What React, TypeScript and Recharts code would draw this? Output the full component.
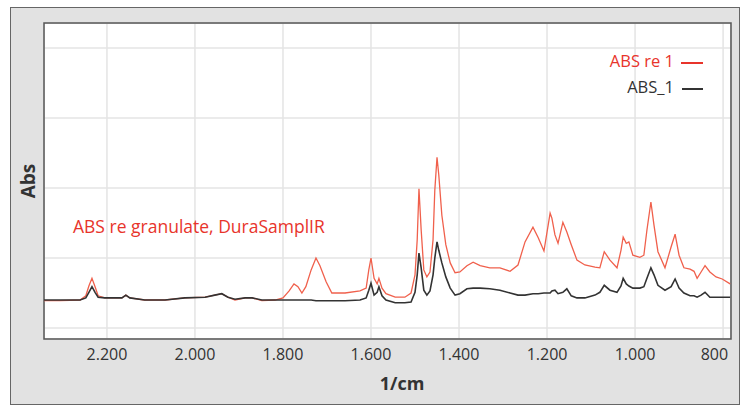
import { LineChart, Line, XAxis, YAxis, CartesianGrid, ReferenceArea } from 'recharts';

// wavenumbers (1/cm)
const wavenumbers = [
  2343, 2307, 2261, 2248, 2241, 2234, 2227, 2220, 2205, 2182, 2166, 2157, 2148, 2114, 2068, 2023, 1977, 1955, 1939, 1925,
  1909, 1886, 1870, 1848, 1818, 1800, 1786, 1775, 1766, 1757, 1748, 1736, 1725, 1716, 1702, 1689, 1659, 1625, 1611, 1605,
  1600, 1593, 1586, 1582, 1575, 1566, 1545, 1523, 1509, 1500, 1495, 1491, 1486, 1480, 1473, 1466, 1459, 1455, 1450, 1446,
  1439, 1430, 1420, 1409, 1398, 1382, 1368, 1352, 1330, 1307, 1284, 1266, 1250, 1232, 1220, 1207, 1193, 1189, 1182, 1175,
  1164, 1155, 1145, 1132, 1114, 1091, 1080, 1070, 1057, 1041, 1032, 1027, 1020, 1014, 1005, 989, 980, 973, 964, 957,
  948, 932, 918, 909, 900, 889, 875, 866, 859, 850, 841, 830, 816, 802, 784,
];

// "ABS re 1" (red trace)
const absRe1 = [
  0.39, 0.39, 0.40, 0.46, 0.60, 0.71, 0.59, 0.46, 0.43, 0.43, 0.43, 0.47, 0.43, 0.40, 0.40, 0.43, 0.44, 0.47, 0.49, 0.44,
  0.40, 0.43, 0.43, 0.39, 0.40, 0.43, 0.53, 0.63, 0.59, 0.50, 0.59, 0.83, 1.00, 0.89, 0.66, 0.50, 0.50, 0.53, 0.57, 0.83,
  1.00, 0.71, 0.63, 0.71, 0.57, 0.49, 0.44, 0.44, 0.50, 0.76, 1.26, 1.99, 1.40, 0.83, 0.73, 0.80, 1.26, 1.97, 2.44, 2.19,
  1.61, 1.19, 0.93, 0.79, 0.80, 0.89, 0.94, 0.89, 0.86, 0.86, 0.81, 0.90, 1.23, 1.44, 1.29, 1.10, 1.64, 1.57, 1.33, 1.21,
  1.51, 1.37, 1.19, 0.97, 0.90, 0.87, 0.86, 1.09, 0.97, 0.86, 1.11, 1.30, 1.21, 1.23, 1.04, 1.01, 1.04, 1.40, 1.80, 1.47,
  1.09, 0.86, 1.16, 1.34, 1.04, 0.86, 0.84, 0.81, 0.71, 0.80, 0.89, 0.80, 0.73, 0.70, 0.63,
];

// "ABS_1" (black trace)
const abs1 = [
  0.40, 0.40, 0.40, 0.43, 0.51, 0.59, 0.51, 0.44, 0.43, 0.43, 0.43, 0.47, 0.43, 0.40, 0.40, 0.43, 0.44, 0.47, 0.49, 0.44,
  0.41, 0.43, 0.43, 0.40, 0.40, 0.40, 0.40, 0.40, 0.40, 0.40, 0.40, 0.40, 0.39, 0.39, 0.39, 0.39, 0.39, 0.40, 0.43, 0.54,
  0.64, 0.47, 0.51, 0.59, 0.46, 0.40, 0.36, 0.36, 0.37, 0.51, 0.76, 1.07, 0.86, 0.54, 0.47, 0.53, 0.76, 1.00, 1.23, 1.11,
  0.93, 0.73, 0.57, 0.47, 0.49, 0.56, 0.57, 0.57, 0.56, 0.54, 0.50, 0.47, 0.47, 0.49, 0.49, 0.50, 0.50, 0.53, 0.54, 0.49,
  0.51, 0.56, 0.46, 0.43, 0.43, 0.47, 0.51, 0.61, 0.54, 0.51, 0.60, 0.71, 0.63, 0.60, 0.57, 0.57, 0.59, 0.71, 0.86, 0.76,
  0.61, 0.54, 0.59, 0.70, 0.57, 0.50, 0.46, 0.46, 0.44, 0.47, 0.51, 0.44, 0.44, 0.44, 0.44,
];

const xTicks = [800, 1000, 1200, 1400, 1600, 1800, 2000, 2200];
const yTicks = [0, 1, 2, 3, 4];
const xDomain: [number, number] = [782, 2343];
const yDomain: [number, number] = [-0.157, 4.357];

const data = wavenumbers.map((wn, i) => ({ wn, re: absRe1[i], abs: abs1[i] }));

const RED = '#e8342b';
const FONT = '"Open Sans", "DejaVu Sans", sans-serif';

const fmt = (v: number) => (v >= 1000 ? `${Math.floor(v / 1000)}.${String(v % 1000).padStart(3, '0')}` : String(v));

const XTick = (props: any) => {
  const { x, y, payload } = props;
  const last = payload.value === 800;
  return (
    <text
      x={last ? x + 5 : x}
      y={y}
      dy={13}
      textAnchor={last ? 'end' : 'middle'}
      fontSize={16}
      fontFamily={FONT}
      fill="#333"
    >
      {fmt(payload.value)}
    </text>
  );
};

export default function App() {
  return (
    <div style={{ position: 'absolute', left: 0, top: 0, width: 747, height: 406, fontFamily: FONT }}>
      <div
        style={{
          position: 'absolute',
          left: 10,
          top: 7,
          width: 728,
          height: 396,
          background: '#e2e2e2',
          border: '1px solid #666',
        }}
      />
      <div style={{ position: 'absolute', left: 0, top: 0 }}>
        <LineChart width={747} height={406} data={data} margin={{ top: 23, right: 16, bottom: 37, left: 44 }}>
          <CartesianGrid fill="#fff" stroke="#e4e4e4" strokeWidth={1.5} />
          <XAxis
            dataKey="wn"
            type="number"
            domain={xDomain}
            reversed
            allowDataOverflow
            ticks={xTicks}
            height={30}
            axisLine={false}
            tickLine={false}
            tick={<XTick />}
            interval={0}
          />
          <YAxis hide type="number" domain={yDomain} ticks={yTicks} allowDataOverflow />
          <Line
            dataKey="re"
            type="linear"
            stroke="#f0604c"
            strokeWidth={1.3}
            dot={false}
            isAnimationActive={false}
          />
          <Line
            dataKey="abs"
            type="linear"
            stroke="#333"
            strokeWidth={1.6}
            dot={false}
            isAnimationActive={false}
          />
          <ReferenceArea
            x1={xDomain[0]}
            x2={xDomain[1]}
            y1={yDomain[0]}
            y2={yDomain[1]}
            fill="none"
            stroke="#555"
            strokeWidth={1.5}
            ifOverflow="visible"
          />
        </LineChart>
      </div>

      {/* legend */}
      <div style={{ position: 'absolute', right: 44, top: 48, textAlign: 'right', fontSize: 16.5, lineHeight: '26px' }}>
        <div style={{ color: RED }}>
          ABS re 1
          <span style={{ display: 'inline-block', width: 22, height: 2, background: RED, marginLeft: 7, verticalAlign: 'middle' }} />
        </div>
        <div style={{ color: '#333' }}>
          ABS_1
          <span style={{ display: 'inline-block', width: 21, height: 2, background: '#333', marginLeft: 8, verticalAlign: 'middle' }} />
        </div>
      </div>

      {/* annotation */}
      <div style={{ position: 'absolute', left: 73, top: 215, fontSize: 17.5, lineHeight: '22px', color: RED, whiteSpace: 'nowrap' }}>
        ABS re granulate, DuraSamplIR
      </div>

      {/* axis titles */}
      <div
        style={{
          position: 'absolute',
          left: 28,
          top: 181,
          transform: 'translate(-50%, -50%) rotate(-90deg)',
          fontSize: 19,
          fontWeight: 700,
          color: '#333',
          whiteSpace: 'nowrap',
        }}
      >
        Abs
      </div>
      <div
        style={{
          position: 'absolute',
          left: 402,
          top: 383,
          transform: 'translate(-50%, -50%)',
          fontSize: 18,
          fontWeight: 700,
          color: '#333',
          whiteSpace: 'nowrap',
        }}
      >
        1/cm
      </div>
    </div>
  );
}
